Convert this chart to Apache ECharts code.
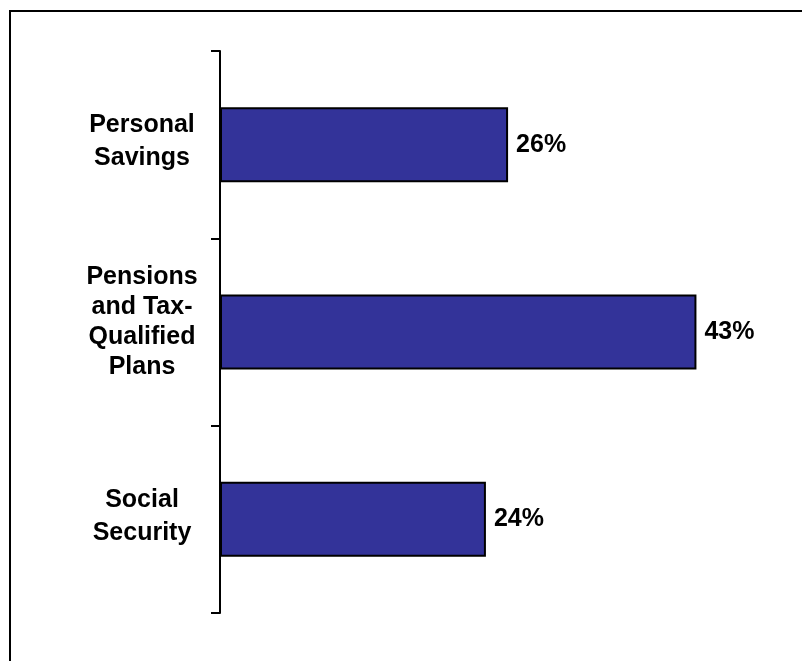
<!DOCTYPE html>
<html>
<head>
<meta charset="utf-8">
<style>
  html, body { margin: 0; padding: 0; background: #ffffff; }
  #chart { width: 802px; height: 661px; }
</style>
<script src="https://cdn.jsdelivr.net/npm/echarts@6/dist/echarts.min.js"></script>
</head>
<body>
<div id="chart"></div>
<script>
// Sources of retirement income (share of total)
const categories = [
  'Personal\nSavings',
  'Pensions\nand Tax-\nQualified\nPlans',
  'Social\nSecurity'
];
const shares = [26, 43, 24];

const chart = echarts.init(document.getElementById('chart'), null, { renderer: 'canvas' });

// Rich-text labels: two-line names use wider spacing; the four-line name
// gets an empty spacer line so the block sits slightly above the bar centre.
function labelText(value) {
  const lines = value.split('\n');
  if (lines.length > 2) {
    return lines.map(l => '{tight|' + l + '}').join('\n') + '\n{pad| }';
  }
  return lines.map(l => '{wide|' + l + '}').join('\n') + '\n{padS| }';
}

const labelFont = {
  fontFamily: '"Liberation Sans", Arial, sans-serif',
  fontWeight: 'bold',
  fontSize: 25,
  color: '#000000'
};

chart.setOption({
  animation: false,
  backgroundColor: '#ffffff',
  graphic: [{
    type: 'rect',
    shape: { x: 10, y: 11, width: 900, height: 900 },
    style: { fill: 'none', stroke: '#000000', lineWidth: 2 },
    silent: true
  }],
  grid: { left: 220, top: 51, right: 28, bottom: 48, containLabel: false },
  xAxis: {
    type: 'value',
    min: 0,
    max: 50,
    show: false
  },
  yAxis: {
    type: 'category',
    data: categories,
    inverse: true,
    axisLine: { show: true, lineStyle: { color: '#000000', width: 2 } },
    axisTick: { show: true, alignWithLabel: false, length: 9, lineStyle: { color: '#000000', width: 2 } },
    axisLabel: {
      align: 'center',
      margin: 78,
      formatter: labelText,
      rich: {
        wide: Object.assign({ lineHeight: 33 }, labelFont),
        tight: Object.assign({ lineHeight: 30 }, labelFont),
        pad: { fontSize: 10, lineHeight: 20 },
        padS: { fontSize: 6, lineHeight: 6 }
      }
    },
    splitLine: { show: false }
  },
  series: [{
    type: 'bar',
    data: shares,
    barCategoryGap: '60%',
    itemStyle: { color: '#333399', borderColor: '#000000', borderWidth: 2 },
    label: {
      show: true,
      position: 'right',
      distance: 8,
      formatter: p => p.value + '%',
      fontFamily: '"Liberation Sans", Arial, sans-serif',
      fontWeight: 'bold',
      fontSize: 25,
      color: '#000000'
    }
  }]
});
</script>
</body>
</html>
